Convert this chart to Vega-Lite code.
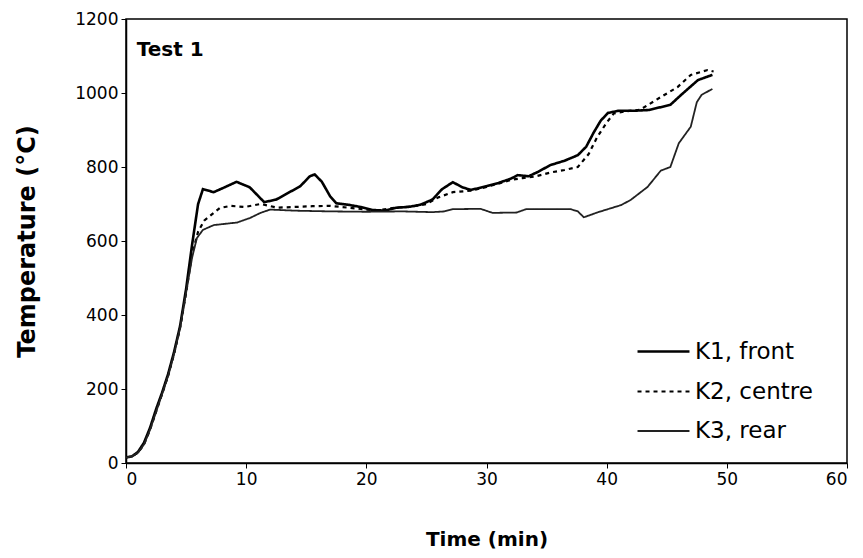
{
  "$schema": "https://vega.github.io/schema/vega-lite/v6.json",
  "width": 721,
  "height": 444,
  "autosize": "none",
  "padding": {"left": 126, "top": 19, "right": 16, "bottom": 95},
  "background": "white",
  "config": {
    "view": {"stroke": "black", "strokeWidth": 1.5},
    "font": "DejaVu Sans",
    "axis": {
      "grid": false,
      "domainColor": "black",
      "domainWidth": 1.5,
      "tickColor": "black",
      "tickSize": 5,
      "labelFont": "DejaVu Sans",
      "labelFontSize": 17,
      "labelColor": "black",
      "labelPadding": 3,
      "titleFont": "DejaVu Sans",
      "titleFontWeight": "bold",
      "titleColor": "black"
    }
  },
  "datasets": {
    "temps": [
      {"t": 0, "temp": 15, "series": "K1, front"},
      {"t": 0.5, "temp": 18, "series": "K1, front"},
      {"t": 1, "temp": 30, "series": "K1, front"},
      {"t": 1.5, "temp": 55, "series": "K1, front"},
      {"t": 2, "temp": 95, "series": "K1, front"},
      {"t": 2.5, "temp": 145, "series": "K1, front"},
      {"t": 3, "temp": 190, "series": "K1, front"},
      {"t": 3.5, "temp": 240, "series": "K1, front"},
      {"t": 4, "temp": 300, "series": "K1, front"},
      {"t": 4.5, "temp": 370, "series": "K1, front"},
      {"t": 5, "temp": 470, "series": "K1, front"},
      {"t": 5.5, "temp": 590, "series": "K1, front"},
      {"t": 6, "temp": 700, "series": "K1, front"},
      {"t": 6.4, "temp": 740, "series": "K1, front"},
      {"t": 7.3, "temp": 732, "series": "K1, front"},
      {"t": 8.2, "temp": 745, "series": "K1, front"},
      {"t": 9.2, "temp": 760, "series": "K1, front"},
      {"t": 10.3, "temp": 745, "series": "K1, front"},
      {"t": 11.5, "temp": 705, "series": "K1, front"},
      {"t": 12.5, "temp": 712, "series": "K1, front"},
      {"t": 13.5, "temp": 730, "series": "K1, front"},
      {"t": 14.5, "temp": 748, "series": "K1, front"},
      {"t": 15.3, "temp": 775, "series": "K1, front"},
      {"t": 15.7, "temp": 780, "series": "K1, front"},
      {"t": 16.3, "temp": 760, "series": "K1, front"},
      {"t": 17, "temp": 720, "series": "K1, front"},
      {"t": 17.5, "temp": 702, "series": "K1, front"},
      {"t": 18.5, "temp": 698, "series": "K1, front"},
      {"t": 19.5, "temp": 692, "series": "K1, front"},
      {"t": 20.5, "temp": 684, "series": "K1, front"},
      {"t": 21.5, "temp": 682, "series": "K1, front"},
      {"t": 22.5, "temp": 690, "series": "K1, front"},
      {"t": 23.5, "temp": 692, "series": "K1, front"},
      {"t": 24.5, "temp": 698, "series": "K1, front"},
      {"t": 25.5, "temp": 712, "series": "K1, front"},
      {"t": 26.3, "temp": 740, "series": "K1, front"},
      {"t": 27.2, "temp": 759, "series": "K1, front"},
      {"t": 28, "temp": 745, "series": "K1, front"},
      {"t": 28.7, "temp": 738, "series": "K1, front"},
      {"t": 30, "temp": 748, "series": "K1, front"},
      {"t": 31, "temp": 757, "series": "K1, front"},
      {"t": 32, "temp": 768, "series": "K1, front"},
      {"t": 32.6, "temp": 778, "series": "K1, front"},
      {"t": 33.5, "temp": 775, "series": "K1, front"},
      {"t": 34.3, "temp": 787, "series": "K1, front"},
      {"t": 35.3, "temp": 805, "series": "K1, front"},
      {"t": 36.5, "temp": 817, "series": "K1, front"},
      {"t": 37.6, "temp": 832, "series": "K1, front"},
      {"t": 38.3, "temp": 855, "series": "K1, front"},
      {"t": 38.9, "temp": 892, "series": "K1, front"},
      {"t": 39.5, "temp": 925, "series": "K1, front"},
      {"t": 40.1, "temp": 946, "series": "K1, front"},
      {"t": 41, "temp": 952, "series": "K1, front"},
      {"t": 42.3, "temp": 952, "series": "K1, front"},
      {"t": 43.5, "temp": 954, "series": "K1, front"},
      {"t": 45.3, "temp": 968, "series": "K1, front"},
      {"t": 46.2, "temp": 995, "series": "K1, front"},
      {"t": 47.6, "temp": 1035, "series": "K1, front"},
      {"t": 48.8, "temp": 1049, "series": "K1, front"},

      {"t": 0, "temp": 15, "series": "K2, centre"},
      {"t": 0.5, "temp": 18, "series": "K2, centre"},
      {"t": 1, "temp": 28, "series": "K2, centre"},
      {"t": 1.5, "temp": 50, "series": "K2, centre"},
      {"t": 2, "temp": 90, "series": "K2, centre"},
      {"t": 2.5, "temp": 138, "series": "K2, centre"},
      {"t": 3, "temp": 186, "series": "K2, centre"},
      {"t": 3.5, "temp": 235, "series": "K2, centre"},
      {"t": 4, "temp": 295, "series": "K2, centre"},
      {"t": 4.5, "temp": 365, "series": "K2, centre"},
      {"t": 5, "temp": 460, "series": "K2, centre"},
      {"t": 5.5, "temp": 565, "series": "K2, centre"},
      {"t": 6, "temp": 625, "series": "K2, centre"},
      {"t": 6.5, "temp": 655, "series": "K2, centre"},
      {"t": 7, "temp": 668, "series": "K2, centre"},
      {"t": 7.8, "temp": 689, "series": "K2, centre"},
      {"t": 8.7, "temp": 695, "series": "K2, centre"},
      {"t": 9.9, "temp": 692, "series": "K2, centre"},
      {"t": 11.2, "temp": 700, "series": "K2, centre"},
      {"t": 12.6, "temp": 690, "series": "K2, centre"},
      {"t": 14, "temp": 692, "series": "K2, centre"},
      {"t": 15.5, "temp": 694, "series": "K2, centre"},
      {"t": 17, "temp": 695, "series": "K2, centre"},
      {"t": 18.5, "temp": 690, "series": "K2, centre"},
      {"t": 20, "temp": 685, "series": "K2, centre"},
      {"t": 21, "temp": 683, "series": "K2, centre"},
      {"t": 22, "temp": 688, "series": "K2, centre"},
      {"t": 23, "temp": 692, "series": "K2, centre"},
      {"t": 24, "temp": 694, "series": "K2, centre"},
      {"t": 25, "temp": 700, "series": "K2, centre"},
      {"t": 26, "temp": 718, "series": "K2, centre"},
      {"t": 27.2, "temp": 732, "series": "K2, centre"},
      {"t": 28.7, "temp": 736, "series": "K2, centre"},
      {"t": 30, "temp": 746, "series": "K2, centre"},
      {"t": 31, "temp": 755, "series": "K2, centre"},
      {"t": 32, "temp": 765, "series": "K2, centre"},
      {"t": 33, "temp": 770, "series": "K2, centre"},
      {"t": 34, "temp": 774, "series": "K2, centre"},
      {"t": 35.3, "temp": 785, "series": "K2, centre"},
      {"t": 36.5, "temp": 792, "series": "K2, centre"},
      {"t": 37.6, "temp": 800, "series": "K2, centre"},
      {"t": 38.5, "temp": 835, "series": "K2, centre"},
      {"t": 39.2, "temp": 880, "series": "K2, centre"},
      {"t": 40, "temp": 920, "series": "K2, centre"},
      {"t": 40.6, "temp": 945, "series": "K2, centre"},
      {"t": 41.5, "temp": 950, "series": "K2, centre"},
      {"t": 42.8, "temp": 955, "series": "K2, centre"},
      {"t": 44.5, "temp": 989, "series": "K2, centre"},
      {"t": 45.9, "temp": 1016, "series": "K2, centre"},
      {"t": 47, "temp": 1049, "series": "K2, centre"},
      {"t": 48.4, "temp": 1062, "series": "K2, centre"},
      {"t": 48.9, "temp": 1058, "series": "K2, centre"},

      {"t": 0, "temp": 15, "series": "K3, rear"},
      {"t": 0.5, "temp": 18, "series": "K3, rear"},
      {"t": 1, "temp": 28, "series": "K3, rear"},
      {"t": 1.5, "temp": 50, "series": "K3, rear"},
      {"t": 2, "temp": 90, "series": "K3, rear"},
      {"t": 2.5, "temp": 138, "series": "K3, rear"},
      {"t": 3, "temp": 186, "series": "K3, rear"},
      {"t": 3.5, "temp": 235, "series": "K3, rear"},
      {"t": 4, "temp": 295, "series": "K3, rear"},
      {"t": 4.5, "temp": 365, "series": "K3, rear"},
      {"t": 5, "temp": 460, "series": "K3, rear"},
      {"t": 5.5, "temp": 555, "series": "K3, rear"},
      {"t": 5.9, "temp": 608, "series": "K3, rear"},
      {"t": 6.4, "temp": 630, "series": "K3, rear"},
      {"t": 7.3, "temp": 643, "series": "K3, rear"},
      {"t": 9.25, "temp": 650, "series": "K3, rear"},
      {"t": 10.3, "temp": 662, "series": "K3, rear"},
      {"t": 11.2, "temp": 676, "series": "K3, rear"},
      {"t": 12, "temp": 685, "series": "K3, rear"},
      {"t": 14, "temp": 682, "series": "K3, rear"},
      {"t": 17, "temp": 680, "series": "K3, rear"},
      {"t": 20, "temp": 679, "series": "K3, rear"},
      {"t": 23, "temp": 680, "series": "K3, rear"},
      {"t": 25.5, "temp": 678, "series": "K3, rear"},
      {"t": 26.5, "temp": 680, "series": "K3, rear"},
      {"t": 27.2, "temp": 686, "series": "K3, rear"},
      {"t": 29.5, "temp": 687, "series": "K3, rear"},
      {"t": 30.5, "temp": 676, "series": "K3, rear"},
      {"t": 32.5, "temp": 677, "series": "K3, rear"},
      {"t": 33.3, "temp": 686, "series": "K3, rear"},
      {"t": 37, "temp": 686, "series": "K3, rear"},
      {"t": 37.6, "temp": 680, "series": "K3, rear"},
      {"t": 38.1, "temp": 664, "series": "K3, rear"},
      {"t": 39.3, "temp": 678, "series": "K3, rear"},
      {"t": 40.1, "temp": 686, "series": "K3, rear"},
      {"t": 41.2, "temp": 697, "series": "K3, rear"},
      {"t": 42, "temp": 711, "series": "K3, rear"},
      {"t": 43.4, "temp": 746, "series": "K3, rear"},
      {"t": 44.5, "temp": 790, "series": "K3, rear"},
      {"t": 45.3, "temp": 800, "series": "K3, rear"},
      {"t": 46, "temp": 864, "series": "K3, rear"},
      {"t": 47, "temp": 909, "series": "K3, rear"},
      {"t": 47.5, "temp": 975, "series": "K3, rear"},
      {"t": 47.9, "temp": 995, "series": "K3, rear"},
      {"t": 48.8, "temp": 1011, "series": "K3, rear"}
    ],
    "label": [
      {"t": 0.9, "temp": 1115, "text": "Test 1"}
    ]
  },
  "layer": [
    {
      "data": {"name": "temps"},
      "mark": {"type": "line", "clip": true},
      "encoding": {
        "x": {
          "field": "t",
          "type": "quantitative",
          "title": "Time (min)",
          "scale": {"domain": [0, 60], "nice": false},
          "axis": {"values": [0, 10, 20, 30, 40, 50, 60], "format": "d", "titlePadding": 42, "titleFontSize": 20}
        },
        "y": {
          "field": "temp",
          "type": "quantitative",
          "title": "Temperature (°C)",
          "scale": {"domain": [0, 1200], "nice": false},
          "axis": {"values": [0, 200, 400, 600, 800, 1000, 1200], "format": "d", "titlePadding": 35, "titleFontSize": 24}
        },
        "color": {
          "field": "series",
          "type": "nominal",
          "scale": {"domain": ["K1, front", "K2, centre", "K3, rear"], "range": ["black", "black", "#222222"]},
          "legend": {
            "title": null,
            "orient": "none",
            "legendX": 510,
            "legendY": 305,
            "symbolType": "stroke",
            "symbolSize": 2700,
            "labelFontSize": 23,
            "labelFont": "DejaVu Sans",
            "labelColor": "black",
            "labelOffset": 4,
            "rowPadding": -16,
            "symbolStrokeColor": "black"
          }
        },
        "strokeDash": {
          "field": "series",
          "type": "nominal",
          "scale": {"domain": ["K1, front", "K2, centre", "K3, rear"], "range": [[1, 0], [4, 4], [1, 0]]},
          "legend": null
        },
        "strokeWidth": {
          "field": "series",
          "type": "nominal",
          "scale": {"domain": ["K1, front", "K2, centre", "K3, rear"], "range": [2.6, 1.8, 0.9]},
          "legend": null
        }
      }
    },
    {
      "data": {"name": "label"},
      "mark": {"type": "text", "align": "left", "baseline": "middle", "fontSize": 20, "fontWeight": "bold", "font": "DejaVu Sans", "color": "black"},
      "encoding": {
        "x": {"field": "t", "type": "quantitative"},
        "y": {"field": "temp", "type": "quantitative"},
        "text": {"field": "text"}
      }
    }
  ]
}
